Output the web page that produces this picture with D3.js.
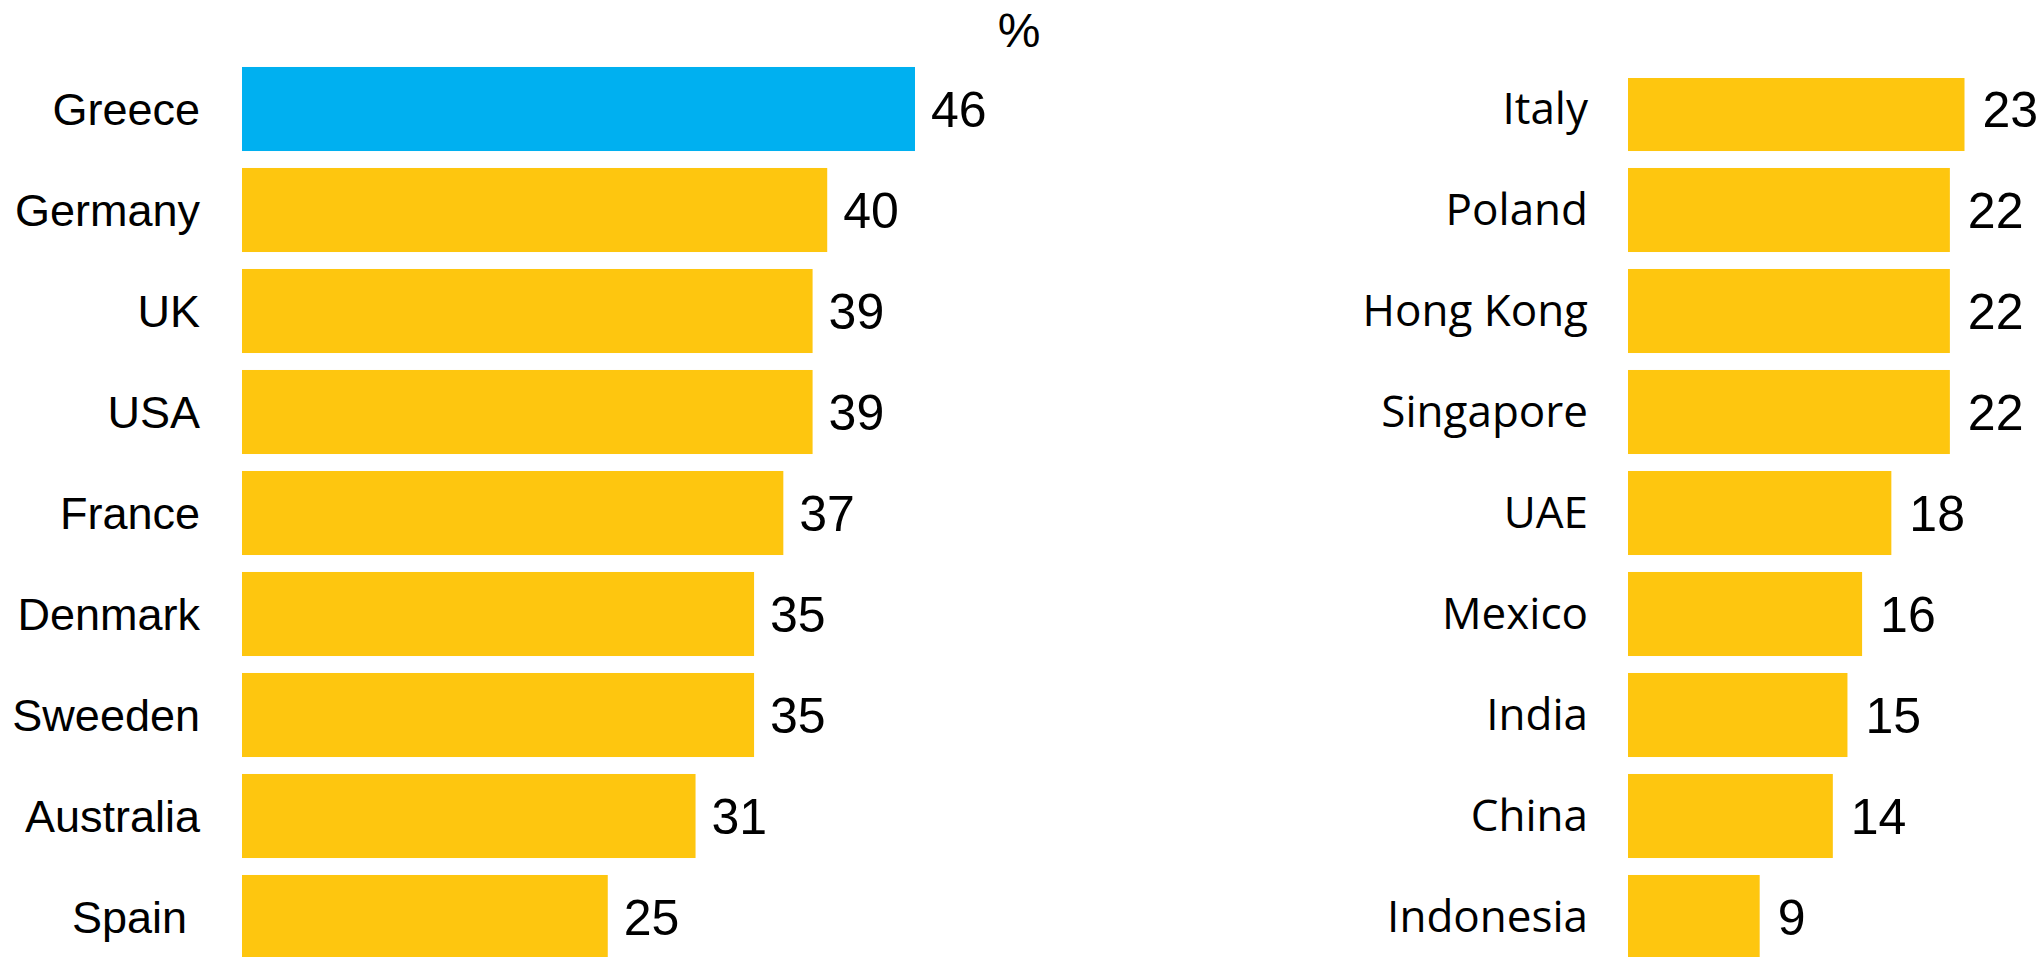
<!DOCTYPE html>
<html>
<head>
<meta charset="utf-8">
<script src="https://cdn.jsdelivr.net/npm/d3@7"></script>
<style>
  body { margin: 0; background: #fff; }
  svg { display: block; }
</style>
</head>
<body>
<div id="chart"></div>
<script>
// left panel
var leftNames = ['Greece', 'Germany', 'UK', 'USA', 'France', 'Denmark', 'Sweeden', 'Australia', 'Spain'];
var leftValues = [46, 40, 39, 39, 37, 35, 35, 31, 25];
// right panel
var rightNames = ['Italy', 'Poland', 'Hong Kong', 'Singapore', 'UAE', 'Mexico', 'India', 'China', 'Indonesia'];
var rightValues = [23, 22, 22, 22, 18, 16, 15, 14, 9];
var highlight = 'Greece';
var unitLabel = '%';

var width = 2044;
var height = 957;

var blue = '#00b0f0';
var yellow = '#fec60f';

var svg = d3.select('#chart')
  .append('svg')
  .attr('width', width).attr('height', height);

// same scale per unit for both panels
var x = d3.scaleLinear().domain([0, 46]).range([0, 673]);

var y = d3.scaleBand()
  .domain(d3.range(9))
  .range([58.5, 967.5])
  .paddingInner(0.168)
  .paddingOuter(0.084);

// right panel is cut off at the top in the original
svg.append('clipPath').attr('id', 'rightClip')
  .append('rect')
  .attr('x', 1600).attr('y', 78)
  .attr('width', 444).attr('height', height - 78);

function drawPanel(names, values, opts) {
  var data = names.map((name, i) => ({name, value: values[i], i}));
  var g = svg.append('g').attr('transform', 'translate(' + opts.x0 + ',0)');

  g.append('g')
    .attr('clip-path', opts.clip ? 'url(#' + opts.clip + ')' : null)
    .attr('transform', opts.clip ? 'translate(' + (-opts.x0) + ',0)' : null)
    .selectAll('rect')
    .data(data)
    .enter().append('rect')
    .attr('x', (opts.clip ? opts.x0 : 0))
    .attr('y', d => y(d.i))
    .attr('width', d => x(d.value))
    .attr('height', y.bandwidth())
    .attr('fill', d => d.name === highlight ? blue : yellow);

  // country names (the last one on the left sits a bit further out in the original)
  g.selectAll('text.name')
    .data(data)
    .enter().append('text')
    .attr('class', 'name')
    .attr('x', d => -opts.labelGap - (opts.nudge && d.name === opts.nudge ? 13 : 0))
    .attr('y', d => y(d.i) + y.bandwidth() / 2)
    .attr('dy', '0.35em')
    .attr('text-anchor', 'end')
    .style('font-family', opts.font)
    .style('font-size', opts.fontSize)
    .attr('fill', '#000')
    .text(d => d.name);

  // values
  g.selectAll('text.value')
    .data(data)
    .enter().append('text')
    .attr('class', 'value')
    .attr('x', d => x(d.value) + opts.valueGap)
    .attr('y', d => y(d.i) + y.bandwidth() / 2)
    .attr('dy', '0.35em')
    .style('font-family', '"Liberation Sans", Arial, sans-serif')
    .style('font-size', '50px')
    .attr('fill', '#000')
    .text(d => d.value);
}

drawPanel(leftNames, leftValues, {
  x0: 242, labelGap: 42, valueGap: 16, nudge: 'Spain',
  font: '"Liberation Sans", Arial, sans-serif', fontSize: '45px'
});
drawPanel(rightNames, rightValues, {
  x0: 1628, labelGap: 40, valueGap: 18,
  font: '"Open Sans", sans-serif', fontSize: '44px', clip: 'rightClip'
});

svg.append('text')
  .attr('x', 242 + x(46) + 104)
  .attr('y', 47)
  .attr('text-anchor', 'middle')
  .style('font-family', '"Liberation Sans", Arial, sans-serif')
  .style('font-size', '48px')
  .attr('fill', '#000')
  .text(unitLabel);
</script>
</body>
</html>
